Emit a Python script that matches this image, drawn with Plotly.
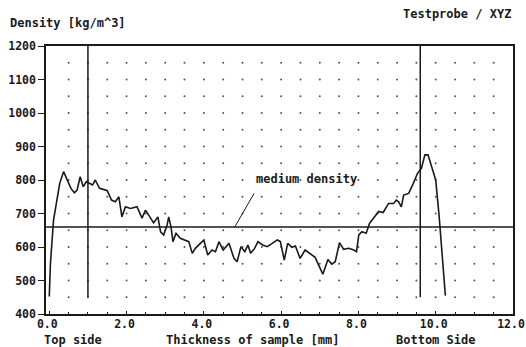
import numpy as np
import plotly.graph_objects as go

# Density profile (thickness in mm, density in kg/m^3)
thickness = [0.0, 0.03, 0.11, 0.18, 0.27, 0.37, 0.47, 0.56, 0.65, 0.72,
             0.80, 0.88, 0.96, 1.04, 1.12, 1.19, 1.30, 1.40, 1.50, 1.61,
             1.71, 1.80, 1.88, 1.97, 2.10, 2.27, 2.40, 2.49, 2.62, 2.70,
             2.81, 2.88, 2.96, 3.05, 3.09, 3.15, 3.20, 3.28, 3.39, 3.52,
             3.61, 3.70, 3.78, 3.91, 4.00, 4.10, 4.21, 4.30, 4.39, 4.50,
             4.65, 4.78, 4.86, 4.96, 5.06, 5.14, 5.21, 5.31, 5.40, 5.52,
             5.64, 5.76, 5.90, 5.98, 6.08, 6.17, 6.28, 6.37, 6.49, 6.62,
             6.75, 6.88, 6.97, 7.08, 7.21, 7.31, 7.40, 7.51, 7.62, 7.75,
             7.88, 7.95, 8.01, 8.09, 8.20, 8.29, 8.39, 8.52, 8.64, 8.78,
             8.91, 8.98, 9.04, 9.11, 9.17, 9.30, 9.42, 9.53, 9.63, 9.72,
             9.80, 9.91, 10.00, 10.09, 10.16, 10.25]
density = [452, 551, 680, 730, 790, 825, 800, 775, 762, 770,
           810, 780, 795, 790, 785, 800, 775, 772, 768, 740,
           735, 750, 690, 720, 715, 720, 686, 710, 686, 672,
           690, 645, 636, 666, 690, 660, 616, 641, 626, 621,
           616, 581, 596, 611, 621, 576, 591, 586, 616, 591,
           611, 566, 556, 601, 586, 606, 581, 595, 616, 606,
           601, 610, 621, 616, 561, 611, 599, 603, 566, 591,
           581, 569, 546, 519, 563, 549, 556, 613, 593, 596,
           591, 586, 636, 646, 641, 671, 686, 706, 703, 730,
           730, 740, 735, 720, 755, 760, 790, 820, 835, 875,
           875, 830, 800, 690, 591, 455]

medium_density = 660
side_markers = [1.0, 9.6]          # top / bottom side boundaries (mm)
marker_range = [450, 1200]
label_point = [4.8, 660]
label_tip = [5.3, 760]

x_ticks = [0, 2, 4, 6, 8, 10, 12]
x_ticklabels = ["0.0", "2.0", "4.0", "6.0", "8.0", "10.0", "12.0"]
y_ticks = [400, 500, 600, 700, 800, 900, 1000, 1100, 1200]

FONT = "DejaVu Sans Mono"
INK = "#1a1a1a"

W, H = 526, 347
L, R, T, B = 46, 13, 46, 33
PW, PH = W - L - R, H - T - B


def px_x(px):
    return (px - L) / PW


def px_y(py):
    return (H - B - py) / PH


fig = go.Figure()

# dotted grid (lattice)
gx, gy = np.meshgrid(np.arange(0.5, 12.0, 0.5), np.arange(450, 1200, 50))
fig.add_trace(go.Scatter(x=gx.ravel(), y=gy.ravel(), mode="markers",
                         marker=dict(size=2, color="#555555"),
                         hoverinfo="skip", showlegend=False))

# medium density line
fig.add_trace(go.Scatter(x=[-0.085, 12.0], y=[medium_density, medium_density],
                         mode="lines", line=dict(color=INK, width=1.5),
                         showlegend=False))

# side boundary lines
for xm in side_markers:
    fig.add_trace(go.Scatter(x=[xm, xm], y=marker_range, mode="lines",
                             line=dict(color=INK, width=1.5), showlegend=False))

# label pointer
fig.add_trace(go.Scatter(x=[label_point[0], label_tip[0]],
                         y=[label_point[1], label_tip[1]], mode="lines",
                         line=dict(color=INK, width=1), showlegend=False))

# density profile
fig.add_trace(go.Scatter(x=thickness, y=density, mode="lines",
                         line=dict(color=INK, width=1.6), showlegend=False))

fig.add_annotation(x=5.3, y=803, xref="x", yref="y", text="medium density",
                   showarrow=False, xanchor="left", yanchor="middle",
                   font=dict(family=FONT, size=12, color=INK, weight="bold"))

# titles
fig.add_annotation(x=px_x(8), y=px_y(23), xref="paper", yref="paper",
                   text="Density [kg/m^3]", showarrow=False,
                   xanchor="left", yanchor="middle",
                   font=dict(family=FONT, size=12, color=INK, weight="bold"))
fig.add_annotation(x=px_x(513), y=px_y(14), xref="paper", yref="paper",
                   text="Testprobe / XYZ", showarrow=False,
                   xanchor="right", yanchor="middle",
                   font=dict(family=FONT, size=12, color=INK, weight="bold"))

for txt, xpx in [("Top side", 42), ("Thickness of sample [mm]", 164),
                 ("Bottom Side", 394)]:
    fig.add_annotation(x=px_x(xpx), y=px_y(340), xref="paper", yref="paper",
                       text=txt, showarrow=False, xanchor="left",
                       yanchor="middle",
                       font=dict(family=FONT, size=12, color=INK, weight="bold"))

fig.update_layout(
    width=W, height=H,
    margin=dict(l=L, r=R, t=T, b=B),
    paper_bgcolor="white", plot_bgcolor="white",
    xaxis=dict(range=[-0.085, 12.0], tickvals=x_ticks, ticktext=x_ticklabels,
               automargin=False, ticklabelshift=-2, ticklabelstandoff=-2,
               showgrid=False, zeroline=False, showline=True, mirror=True,
               linecolor=INK, linewidth=1.5, ticks="inside", ticklen=3,
               tickcolor=INK,
               minor=dict(dtick=0.5, tick0=0, ticks="inside", ticklen=2,
                          tickcolor=INK, showgrid=False),
               tickfont=dict(family=FONT, size=11.5, color=INK,
                             weight="bold")),
    yaxis=dict(range=[400, 1200], tickvals=y_ticks, automargin=False,
               showgrid=False, zeroline=False, showline=True, mirror=True,
               linecolor=INK, linewidth=1.5, ticks="outside", ticklen=6,
               tickcolor=INK, tickfont=dict(family=FONT, size=11.5, color=INK,
                                            weight="bold")),
)

fig.write_html("out.html")
